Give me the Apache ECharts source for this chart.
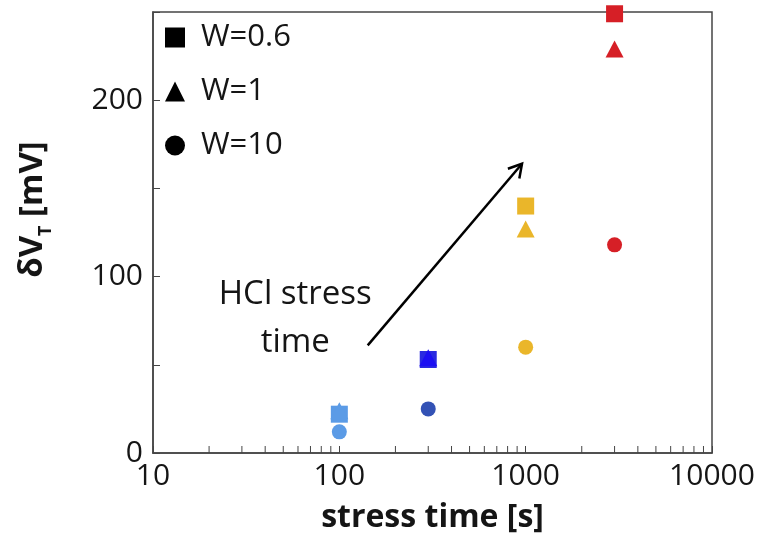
<!DOCTYPE html>
<html>
<head>
<meta charset="utf-8">
<script src="https://cdn.jsdelivr.net/npm/echarts@6/dist/echarts.min.js"></script>
<style>
  html, body { margin: 0; padding: 0; background: #fff; }
  #chart { width: 761px; height: 539px; }
</style>
</head>
<body>
<div id="chart"></div>
<script>
// Stress times (s) and threshold-voltage shift (mV) per channel width
const stressTimes = [100, 300, 1000, 3000];
const shiftW06 = [22, 53, 140, 249];
const shiftW1 = [24, 54, 127, 229];
const shiftW10 = [12, 25, 60, 118];

// Marker colour per stress time
const squareColors = ['#5b9be6', '#2a2ae0', '#eab62a', '#d61f26'];
const triangleColors = ['#5b9be6', '#1c0ff2', '#eab62a', '#d61f26'];
const circleColors = ['#5b9be6', '#3352b5', '#eab62a', '#d61f26'];

const seriesNames = ['W=0.6', 'W=1', 'W=10'];

// Axis tick values
const yTicks = [0, 100, 200];
const xTickLabels = [10, 100, 1000, 10000];
const xMinorTicks = [20, 30, 40, 50, 60, 70, 80, 90,
                     200, 300, 400, 500, 600, 700, 800, 900,
                     2000, 3000, 4000, 5000, 6000, 7000, 8000, 9000];

// Annotation arrow (data coordinates) and its caption
const arrowFrom = [142, 61];
const arrowTo = [956, 164];
const noteAt = [58, 76];
const noteText = 'HCl stress\ntime';

const FONT = 'Open Sans';
const INK = '#151515';
const FRAME = '#454545';

function points(values, colors) {
  return stressTimes.map((t, i) => ({ value: [t, values[i]], itemStyle: { color: colors[i] } }));
}

const chart = echarts.init(document.getElementById('chart'), null, { renderer: 'canvas' });

chart.setOption({
  animation: false,
  backgroundColor: '#fff',
  grid: {
    left: 153, right: 49, top: 12, bottom: 85,
    show: true, borderColor: FRAME, borderWidth: 1.5, backgroundColor: 'transparent'
  },
  legend: {
    data: seriesNames,
    orient: 'vertical',
    left: 160, top: 17,
    itemWidth: 20, itemHeight: 20, itemGap: 23,
    textStyle: { fontFamily: FONT, fontSize: 31, color: INK, padding: [0, 0, 0, 11] },
    selectedMode: false
  },
  xAxis: {
    type: 'log',
    logBase: 10,
    min: xTickLabels[0],
    max: xTickLabels[xTickLabels.length - 1],
    name: 'stress time [s]',
    nameLocation: 'middle',
    nameGap: 49,
    nameTextStyle: { fontFamily: FONT, fontSize: 32, fontWeight: 'bold', color: INK },
    axisLine: { show: true, lineStyle: { color: FRAME, width: 1.5 } },
    axisTick: { show: true, inside: true, length: 7, lineStyle: { color: FRAME, width: 1 } },
    axisLabel: {
      fontFamily: FONT, fontSize: 30, color: INK, margin: 8,
      formatter: v => String(Math.round(v))
    },
    splitLine: { show: false }
  },
  yAxis: {
    type: 'value',
    min: 0, max: 250, interval: 50,
    name: '{d|δV}{s|T}{d| [mV]}',
    nameLocation: 'middle',
    nameGap: 104,
    nameRotate: 90,
    nameTextStyle: {
      fontFamily: FONT, fontWeight: 'bold', color: INK,
      padding: [0, 0, 0, 46],
      rich: {
        d: { fontFamily: FONT, fontSize: 33, fontWeight: 'bold', color: INK },
        s: { fontFamily: FONT, fontSize: 18, fontWeight: 'bold', color: INK, verticalAlign: 'bottom', padding: [0, 0, -6, 0] }
      }
    },
    axisLine: { show: true, lineStyle: { color: FRAME, width: 1.5 } },
    axisTick: { show: true, inside: true, length: 7, lineStyle: { color: FRAME, width: 1 } },
    axisLabel: {
      fontFamily: FONT, fontSize: 30, color: INK, margin: 10,
      formatter: v => (yTicks.indexOf(v) >= 0 ? String(v) : '')
    },
    splitLine: { show: false }
  },
  series: [
    {
      name: seriesNames[0], type: 'scatter', symbol: 'rect', symbolSize: 17,
      itemStyle: { color: '#000', opacity: 1 }, emphasis: { disabled: true },
      data: points(shiftW06, squareColors), z: 3
    },
    {
      name: seriesNames[1], type: 'scatter', symbol: 'triangle', symbolSize: [18, 17],
      itemStyle: { color: '#000', opacity: 1 }, emphasis: { disabled: true },
      data: points(shiftW1, triangleColors), z: 4
    },
    {
      name: seriesNames[2], type: 'scatter', symbol: 'circle', symbolSize: 15,
      itemStyle: { color: '#000', opacity: 1 }, emphasis: { disabled: true },
      data: points(shiftW10, circleColors), z: 5
    },
    {
      // minor ticks of the log axis (2..9 within each decade)
      type: 'custom', silent: true, z: 2,
      data: xMinorTicks.map(v => [v, 0]),
      renderItem: (params, api) => {
        const p = api.coord([api.value(0), 0]);
        return {
          type: 'line',
          shape: { x1: p[0], y1: p[1], x2: p[0], y2: p[1] - 7 },
          style: { stroke: FRAME, lineWidth: 1 }
        };
      }
    },
    {
      // "HCl stress time" arrow with its caption
      type: 'custom', silent: true, z: 6,
      data: [[arrowFrom[0], arrowFrom[1]]],
      renderItem: (params, api) => {
        const a = api.coord(arrowFrom);
        const b = api.coord(arrowTo);
        const ang = Math.atan2(b[1] - a[1], b[0] - a[0]);
        const len = 15, spread = Math.PI / 6;
        const h1 = [b[0] - len * Math.cos(ang - spread), b[1] - len * Math.sin(ang - spread)];
        const h2 = [b[0] - len * Math.cos(ang + spread), b[1] - len * Math.sin(ang + spread)];
        const n = api.coord(noteAt);
        return {
          type: 'group',
          children: [
            { type: 'line', shape: { x1: a[0], y1: a[1], x2: b[0], y2: b[1] },
              style: { stroke: '#000', lineWidth: 2.5 } },
            { type: 'polyline', shape: { points: [h1, b, h2] },
              style: { stroke: '#000', lineWidth: 2.5, fill: null, lineJoin: 'miter' } },
            { type: 'text', x: n[0], y: n[1],
              style: { text: noteText, fontFamily: FONT, fontSize: 33, fill: INK,
                       align: 'center', verticalAlign: 'middle', lineHeight: 48 } }
          ]
        };
      }
    }
  ]
});
</script>
</body>
</html>
